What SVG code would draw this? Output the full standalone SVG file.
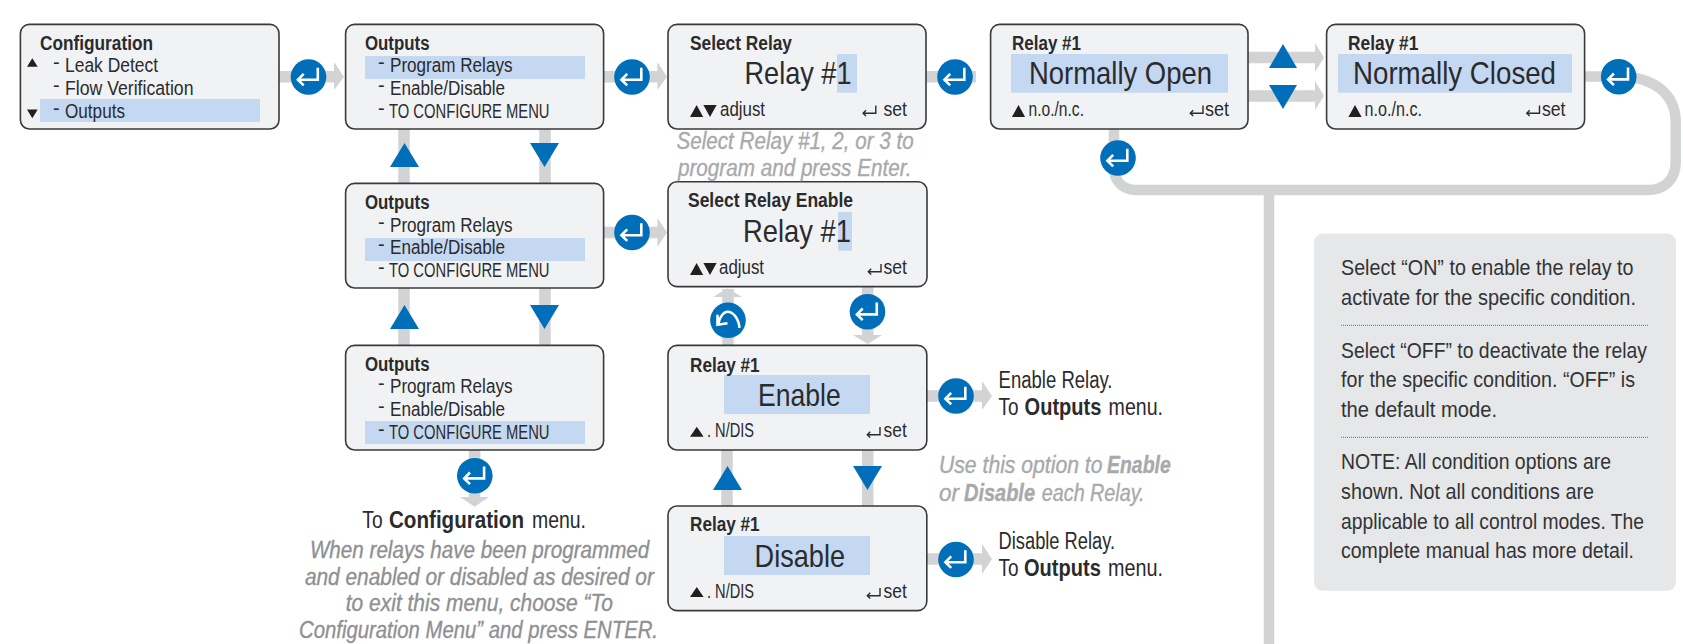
<svg xmlns="http://www.w3.org/2000/svg" xmlns:xlink="http://www.w3.org/1999/xlink" width="1683" height="644" viewBox="0 0 1683 644">
<style>
text{font-family:"Liberation Sans Narrow","Liberation Sans",Arial,sans-serif;fill:#2b2b2d;white-space:pre}
.box{fill:#f1f2f4;stroke:#3a3a3c;stroke-width:1.6}
.hl{fill:#c5d8f1}
.ti{font-weight:700;font-size:20px}
.it{font-size:20px}
.big{font-size:32px}
.sm{font-size:19.5px}
.out{font-size:23px}
.cap{font-size:23.5px;font-style:italic;fill:#a7a9ac;stroke:#a7a9ac;stroke-width:.35}
.capd{font-size:23.5px;font-style:italic;fill:#8e9093;stroke:#8e9093;stroke-width:.35}
.pan{font-size:22px;fill:#333335}
.b{font-weight:700}
.shaft{fill:none;stroke:#d1d3d4;stroke-width:11.5}
.curve{fill:none;stroke:#d1d3d4;stroke-width:10.5}
.head{fill:#d1d3d4}
.blue{fill:#006eb9}
.tri{fill:#231f20}
.ico{fill:none;stroke:#fff;stroke-width:2.6}
.sic{fill:none;stroke:#2b2b2d;stroke-width:1.4}
.dot{stroke:#6d6e71;stroke-width:1;stroke-dasharray:1 1;fill:none}
</style>
<defs>
<g id="enter"><circle r="17.8" class="blue"/><path class="ico" d="M9.3-9.3V2.7H-10M-4.8-3.2L-10.6 2.7L-4.8 8.4"/></g>
<g id="ret"><circle r="17.8" class="blue"/><path class="ico" d="M11.5 7.5C10.5-2 5-9-1-8.5C-5.5-8-8-3-10 3.5M-10.5-5.5L-10.5 4.5L-.5 3"/></g>
<path id="sset" class="sic" d="M0 0V7.7H-12.7M-9.8 4.8L-12.7 7.7L-9.8 10.6"/>
<polygon id="up" class="tri" points="0,0 6.6,12 -6.6,12"/>
<polygon id="dn" class="tri" points="-6.6,0 6.6,0 0,12"/>
</defs>
<rect width="1683" height="644" fill="#fff"/>

<g id="connectors">
<path class="shaft" d="M279 76.8H335M603 76.8H658M603 232.5H658M926 76.8H976M1248 57.5H1316M1248 96H1316"/>
<path class="shaft" d="M404 129V184M545 129V184M404 288V346M545 288V346"/>
<path class="shaft" d="M474.6 450V498M728 289V346M867.7 286V336M727 450V507M867.7 450V507M926.8 396H983M926.8 559H983"/>
<path class="curve" d="M1114 129V168C1114 181 1123 190 1136 190H1648C1665 190 1675.7 179 1675.7 162V122C1675.7 95 1655 77 1620 76.5H1585"/>
<path class="curve" d="M1269 190V644"/>
<polygon class="head" points="334,62 344,76.8 334,90"/>
<polygon class="head" points="657.4,62 667,76.8 657.4,90"/>
<polygon class="head" points="657.4,218 667,232.5 657.4,247"/>
<polygon class="head" points="966,62 976,76.8 966,90"/>
<polygon class="head" points="1315,43 1324,57.5 1315,72"/>
<polygon class="head" points="1315,81 1324,96 1315,110"/>
<polygon class="head" points="982,381 992,396 982,410"/>
<polygon class="head" points="982,544 992,559 982,574"/>
<polygon class="head" points="460,497 489,497 474.6,506.7"/>
<polygon class="head" points="853,335 882,335 867.7,344"/>
<polygon class="head" points="713,297 742,297 727.7,288.3"/>
<polygon class="blue" points="404.5,143 419,167 390,167"/>
<polygon class="blue" points="530,143 559,143 544.5,167"/>
<polygon class="blue" points="404.5,305 419,329 390,329"/>
<polygon class="blue" points="530,305 559,305 544.5,329"/>
<polygon class="blue" points="727.5,466 742,490 713,490"/>
<polygon class="blue" points="853,466 882,466 867.5,490"/>
<polygon class="blue" points="1283,44 1297,68 1269,68"/>
<polygon class="blue" points="1269,85 1297,85 1283,109"/>
<use href="#enter" x="308.5" y="77"/>
<use href="#enter" x="632" y="77"/>
<use href="#enter" x="632" y="232.5"/>
<use href="#enter" x="955" y="77"/>
<use href="#enter" x="1118" y="158"/>
<use href="#enter" x="1618.7" y="76.7"/>
<use href="#enter" x="474.8" y="475.7"/>
<use href="#ret" x="728" y="320.3"/>
<use href="#enter" x="867.5" y="311.7"/>
<use href="#enter" x="956" y="396"/>
<use href="#enter" x="956" y="559.5"/>
</g>

<g id="node-configuration">
<rect class="box" x="20.4" y="24.4" width="258.6" height="104.6" rx="9"/>
<rect class="hl" x="40" y="99" width="220" height="23"/>
<text class="ti" x="40" y="50" textLength="113" lengthAdjust="spacingAndGlyphs">Configuration</text>
<polygon class="tri" points="32.3,58.3 37.7,66.7 27,66.7"/>
<polygon class="tri" points="27,109.5 37.7,109.5 32.3,118.3"/>
<text class="it"><tspan x="53" y="68.5">-</tspan> <tspan x="65" y="72" textLength="93" lengthAdjust="spacingAndGlyphs">Leak Detect</tspan></text>
<text class="it"><tspan x="53" y="91.5">-</tspan> <tspan x="65" y="95" textLength="128.5" lengthAdjust="spacingAndGlyphs">Flow Verification</tspan></text>
<text class="it"><tspan x="53" y="114.5">-</tspan> <tspan x="65" y="118" textLength="60" lengthAdjust="spacingAndGlyphs">Outputs</tspan></text>
</g>

<g id="node-outputs-1">
<rect class="box" x="345.6" y="24.4" width="258" height="104.6" rx="9"/>
<rect class="hl" x="365" y="56" width="220" height="23"/>
<text class="ti" x="365" y="50" textLength="64.5" lengthAdjust="spacingAndGlyphs">Outputs</text>
<text class="it"><tspan x="378" y="68.5">-</tspan> <tspan x="390" y="72" textLength="122.5" lengthAdjust="spacingAndGlyphs">Program Relays</tspan></text>
<text class="it"><tspan x="378" y="91.5">-</tspan> <tspan x="390" y="95" textLength="115" lengthAdjust="spacingAndGlyphs">Enable/Disable</tspan></text>
<text class="it"><tspan x="378" y="114.5">-</tspan> <tspan x="389" y="118" textLength="160.5" lengthAdjust="spacingAndGlyphs">TO CONFIGURE MENU</tspan></text>
</g>

<g id="node-outputs-2">
<rect class="box" x="345.6" y="183.4" width="258" height="104.6" rx="9"/>
<rect class="hl" x="365" y="238" width="220" height="23"/>
<text class="ti" x="365" y="209" textLength="64.5" lengthAdjust="spacingAndGlyphs">Outputs</text>
<text class="it"><tspan x="378" y="228.5">-</tspan> <tspan x="390" y="232" textLength="122.5" lengthAdjust="spacingAndGlyphs">Program Relays</tspan></text>
<text class="it"><tspan x="378" y="250.5">-</tspan> <tspan x="390" y="254" textLength="115" lengthAdjust="spacingAndGlyphs">Enable/Disable</tspan></text>
<text class="it"><tspan x="378" y="273.5">-</tspan> <tspan x="389" y="277" textLength="160.5" lengthAdjust="spacingAndGlyphs">TO CONFIGURE MENU</tspan></text>
</g>

<g id="node-outputs-3">
<rect class="box" x="345.6" y="345.4" width="258" height="104.6" rx="9"/>
<rect class="hl" x="365" y="421" width="220" height="23"/>
<text class="ti" x="365" y="371" textLength="64.5" lengthAdjust="spacingAndGlyphs">Outputs</text>
<text class="it"><tspan x="378" y="389.5">-</tspan> <tspan x="390" y="393" textLength="122.5" lengthAdjust="spacingAndGlyphs">Program Relays</tspan></text>
<text class="it"><tspan x="378" y="412.5">-</tspan> <tspan x="390" y="416" textLength="115" lengthAdjust="spacingAndGlyphs">Enable/Disable</tspan></text>
<text class="it"><tspan x="378" y="435.5">-</tspan> <tspan x="389" y="439" textLength="160.5" lengthAdjust="spacingAndGlyphs">TO CONFIGURE MENU</tspan></text>
</g>

<g id="node-select-relay">
<rect class="box" x="668" y="24.4" width="258" height="104.6" rx="9"/>
<rect class="hl" x="837" y="54" width="20" height="38.7"/>
<text class="ti" x="690" y="50" textLength="102" lengthAdjust="spacingAndGlyphs">Select Relay</text>
<text class="big" x="744.5" y="84" textLength="107" lengthAdjust="spacingAndGlyphs">Relay #1</text>
<use href="#up" x="696.6" y="105"/><use href="#dn" x="710" y="105"/>
<text class="sm" x="720" y="115.7" textLength="45" lengthAdjust="spacingAndGlyphs">adjust</text>
<use href="#sset" x="875.8" y="105.5"/>
<text class="sm" x="883.5" y="115.7" textLength="23.5" lengthAdjust="spacingAndGlyphs">set</text>
</g>

<g id="node-select-relay-enable">
<rect class="box" x="668" y="181.8" width="259" height="104.8" rx="9"/>
<rect class="hl" x="838" y="212" width="14" height="38.7"/>
<text class="ti" x="688" y="207" textLength="165" lengthAdjust="spacingAndGlyphs">Select Relay Enable</text>
<text class="big" x="743" y="242" textLength="108" lengthAdjust="spacingAndGlyphs">Relay #1</text>
<use href="#up" x="696.6" y="263"/><use href="#dn" x="710" y="263"/>
<text class="sm" x="719" y="274" textLength="45" lengthAdjust="spacingAndGlyphs">adjust</text>
<use href="#sset" x="881" y="264"/>
<text class="sm" x="883.5" y="274" textLength="23.5" lengthAdjust="spacingAndGlyphs">set</text>
</g>

<g id="node-relay-open">
<rect class="box" x="990.6" y="24.4" width="257.4" height="104.6" rx="9"/>
<rect class="hl" x="1011" y="54" width="217" height="38.7"/>
<text class="ti" x="1012" y="50" textLength="69" lengthAdjust="spacingAndGlyphs">Relay #1</text>
<text class="big" x="1029" y="84" textLength="183" lengthAdjust="spacingAndGlyphs">Normally Open</text>
<use href="#up" x="1018.5" y="105"/>
<text class="sm" x="1028.5" y="115.7" textLength="55.5" lengthAdjust="spacingAndGlyphs">n.o./n.c.</text>
<use href="#sset" x="1203" y="105.5"/>
<text class="sm" x="1205" y="115.7" textLength="24" lengthAdjust="spacingAndGlyphs">set</text>
</g>

<g id="node-relay-closed">
<rect class="box" x="1326.6" y="24.4" width="258" height="104.6" rx="9"/>
<rect class="hl" x="1338" y="54" width="234" height="38.7"/>
<text class="ti" x="1348" y="50" textLength="70.4" lengthAdjust="spacingAndGlyphs">Relay #1</text>
<text class="big" x="1353" y="84" textLength="203" lengthAdjust="spacingAndGlyphs">Normally Closed</text>
<use href="#up" x="1355" y="105"/>
<text class="sm" x="1364.6" y="115.7" textLength="57.4" lengthAdjust="spacingAndGlyphs">n.o./n.c.</text>
<use href="#sset" x="1539.5" y="105.5"/>
<text class="sm" x="1542" y="115.7" textLength="23.5" lengthAdjust="spacingAndGlyphs">set</text>
</g>

<g id="node-enable">
<rect class="box" x="668" y="345.4" width="258.8" height="104.6" rx="9"/>
<rect class="hl" x="724" y="375" width="146" height="39"/>
<text class="ti" x="690" y="371.5" textLength="69.6" lengthAdjust="spacingAndGlyphs">Relay #1</text>
<text class="big" x="758" y="405.7" textLength="82.7" lengthAdjust="spacingAndGlyphs">Enable</text>
<polygon class="tri" points="696.8,426.7 703.6,436.7 690,436.7"/>
<text class="sm" x="707" y="437" textLength="47" lengthAdjust="spacingAndGlyphs">. N/DIS</text>
<use href="#sset" x="880" y="427"/>
<text class="sm" x="883.6" y="437" textLength="23.2" lengthAdjust="spacingAndGlyphs">set</text>
</g>

<g id="node-disable">
<rect class="box" x="668" y="506" width="258.8" height="104.6" rx="9"/>
<rect class="hl" x="724" y="536" width="146" height="39"/>
<text class="ti" x="690" y="531" textLength="69.6" lengthAdjust="spacingAndGlyphs">Relay #1</text>
<text class="big" x="754.6" y="566.7" textLength="90.4" lengthAdjust="spacingAndGlyphs">Disable</text>
<polygon class="tri" points="696.8,587 703.6,597 690,597"/>
<text class="sm" x="707" y="598" textLength="47" lengthAdjust="spacingAndGlyphs">. N/DIS</text>
<use href="#sset" x="880" y="588"/>
<text class="sm" x="883.6" y="598" textLength="23.2" lengthAdjust="spacingAndGlyphs">set</text>
</g>

<g id="labels">
<text class="cap" x="676.6" y="149" textLength="237" lengthAdjust="spacingAndGlyphs">Select Relay #1, 2, or 3 to</text>
<text class="cap" x="678" y="175.7" textLength="233.5" lengthAdjust="spacingAndGlyphs">program and press Enter.</text>
<text class="out"><tspan x="362.3" y="528" textLength="20.3" lengthAdjust="spacingAndGlyphs">To</tspan> <tspan class="b" x="389" y="528" textLength="135" lengthAdjust="spacingAndGlyphs">Configuration</tspan> <tspan x="532" y="528" textLength="54" lengthAdjust="spacingAndGlyphs">menu.</tspan></text>
<text class="capd" x="309.9" y="557.7" textLength="339.4" lengthAdjust="spacingAndGlyphs">When relays have been programmed</text>
<text class="capd" x="304.9" y="585" textLength="349" lengthAdjust="spacingAndGlyphs">and enabled or disabled as desired or</text>
<text class="capd" x="345.8" y="611" textLength="267.2" lengthAdjust="spacingAndGlyphs">to exit this menu, choose “To</text>
<text class="capd" x="299" y="637.7" textLength="359" lengthAdjust="spacingAndGlyphs">Configuration Menu” and press ENTER.</text>
<text class="out" x="998.6" y="388" textLength="113.9" lengthAdjust="spacingAndGlyphs">Enable Relay.</text>
<text class="out"><tspan x="998.6" y="415" textLength="20" lengthAdjust="spacingAndGlyphs">To</tspan> <tspan class="b" x="1024.6" y="415" textLength="76.8" lengthAdjust="spacingAndGlyphs">Outputs</tspan> <tspan x="1108.6" y="415" textLength="54.4" lengthAdjust="spacingAndGlyphs">menu.</tspan></text>
<text class="out" x="998.6" y="548.7" textLength="116.4" lengthAdjust="spacingAndGlyphs">Disable Relay.</text>
<text class="out"><tspan x="998.6" y="575.7" textLength="20" lengthAdjust="spacingAndGlyphs">To</tspan> <tspan class="b" x="1024" y="575.7" textLength="76.8" lengthAdjust="spacingAndGlyphs">Outputs</tspan> <tspan x="1108" y="575.7" textLength="55" lengthAdjust="spacingAndGlyphs">menu.</tspan></text>
<text class="cap"><tspan x="939" y="473" textLength="163.5" lengthAdjust="spacingAndGlyphs">Use this option to</tspan> <tspan class="b" x="1107" y="473" textLength="63.7" lengthAdjust="spacingAndGlyphs">Enable</tspan></text>
<text class="cap"><tspan x="939" y="500.7" textLength="20" lengthAdjust="spacingAndGlyphs">or</tspan> <tspan class="b" x="964" y="500.7" textLength="71" lengthAdjust="spacingAndGlyphs">Disable</tspan> <tspan x="1041.8" y="500.7" textLength="102.8" lengthAdjust="spacingAndGlyphs">each Relay.</tspan></text>
</g>

<g id="node-note">
<rect x="1314" y="233.4" width="362" height="357.4" rx="9" fill="#e6e7e8"/>
<path class="dot" d="M1341 325.3H1649"/>
<path class="dot" d="M1341 437.3H1649"/>
<g transform="translate(1341 0) scale(.87 1)">
<text class="pan" x="0" y="275" textLength="336.2" lengthAdjust="spacingAndGlyphs">Select “ON” to enable the relay to</text>
<text class="pan" x="0" y="305" textLength="339.1" lengthAdjust="spacingAndGlyphs">activate for the specific condition.</text>
<text class="pan" x="0" y="357.7" textLength="351.7" lengthAdjust="spacingAndGlyphs">Select “OFF” to deactivate the relay</text>
<text class="pan" x="0" y="386.7" textLength="337.9" lengthAdjust="spacingAndGlyphs">for the specific condition. “OFF” is</text>
<text class="pan" x="0" y="416.7" textLength="179.3" lengthAdjust="spacingAndGlyphs">the default mode.</text>
<text class="pan" x="0" y="469.3" textLength="310.3" lengthAdjust="spacingAndGlyphs">NOTE: All condition options are</text>
<text class="pan" x="0" y="499" textLength="290.8" lengthAdjust="spacingAndGlyphs">shown. Not all conditions are</text>
<text class="pan" x="0" y="528.7" textLength="348.3" lengthAdjust="spacingAndGlyphs">applicable to all control modes. The</text>
<text class="pan" x="0" y="557.7" textLength="336.8" lengthAdjust="spacingAndGlyphs">complete manual has more detail.</text>
</g>
</g>
</svg>
